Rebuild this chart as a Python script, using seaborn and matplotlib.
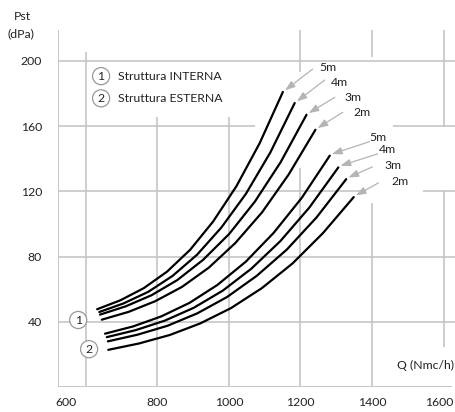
import matplotlib
matplotlib.use("Agg")
import matplotlib.pyplot as plt
import matplotlib.transforms as mtransforms
import matplotlib.font_manager as fm
import seaborn as sns
import pandas as pd

# ---- data ----
labels = ["5m", "4m", "3m", "2m"]

q_int_5m = [632, 697, 762, 827, 892, 956, 1021, 1086, 1151]
p_int_5m = [47.7, 53.2, 60.6, 70.7, 84.2, 101.5, 123.1, 149.5, 181.0]
q_int_4m = [638, 706, 775, 843, 911, 979, 1048, 1116, 1184]
p_int_4m = [46.0, 51.3, 58.4, 68.2, 81.1, 97.8, 118.6, 143.9, 174.2]
q_int_3m = [640, 712, 784, 856, 928, 1001, 1073, 1145, 1217]
p_int_3m = [44.4, 49.5, 56.3, 65.6, 78.0, 93.9, 113.8, 138.0, 167.0]
q_int_2m = [645, 720, 794, 869, 944, 1018, 1093, 1167, 1242]
p_int_2m = [41.3, 46.1, 52.6, 61.4, 73.2, 88.3, 107.2, 130.3, 157.8]

q_ext_5m = [654, 733, 811, 890, 968, 1047, 1125, 1204, 1282]
p_ext_5m = [32.7, 37.2, 43.3, 51.6, 62.6, 76.8, 94.5, 116.1, 141.9]
q_ext_4m = [659, 740, 821, 902, 983, 1063, 1144, 1225, 1306]
p_ext_4m = [30.6, 34.9, 40.7, 48.6, 59.1, 72.6, 89.5, 110.1, 134.7]
q_ext_3m = [662, 745, 829, 912, 995, 1078, 1162, 1245, 1328]
p_ext_3m = [28.0, 32.1, 37.6, 45.2, 55.2, 68.2, 84.3, 104.0, 127.5]
q_ext_2m = [663, 749, 835, 920, 1006, 1092, 1178, 1263, 1349]
p_ext_2m = [22.8, 26.7, 31.9, 39.0, 48.4, 60.6, 75.8, 94.4, 116.5]

x_ticks = [600, 800, 1000, 1200, 1400, 1600]
y_ticks = [40, 80, 120, 160, 200]
legend_texts = ["Struttura INTERNA", "Struttura ESTERNA"]

curves = [
    ("1", "5m", q_int_5m, p_int_5m), ("1", "4m", q_int_4m, p_int_4m),
    ("1", "3m", q_int_3m, p_int_3m), ("1", "2m", q_int_2m, p_int_2m),
    ("2", "5m", q_ext_5m, p_ext_5m), ("2", "4m", q_ext_4m, p_ext_4m),
    ("2", "3m", q_ext_3m, p_ext_3m), ("2", "2m", q_ext_2m, p_ext_2m),
]
rows = []
for grp, lab, qs, ps in curves:
    for q, p in zip(qs, ps):
        rows.append({"curve": grp + "-" + lab, "Q": q, "P": p})
df = pd.DataFrame(rows)

# ---- style ----
sns.set_theme(style="white")
installed = {f.name for f in fm.fontManager.ttflist}
main_font = "Liberation Sans Narrow" if "Liberation Sans Narrow" in installed else "Lato"
narrow = main_font != "Lato"
plt.rcParams["font.family"] = [main_font, "DejaVu Sans"]
FS = 9.5 if narrow else 8.8
GRID = "#c6c6c8"
ARROW = "#b4b4b4"
TXT = "#222222"

fig = plt.figure(figsize=(4.55, 4.12), dpi=100)
ax = fig.add_axes([58 / 455, 1 - 387 / 412, 397 / 455, 357 / 412])
XMIN, XMAX = 522.6, 1632
YMIN, YMAX = 0, 219
ax.set_xlim(XMIN, XMAX)
ax.set_ylim(YMIN, YMAX)

# grid segments (broken like the reference)
gkw = dict(color=GRID, lw=1.2, zorder=1)
ax.vlines(600, 0, 205.5, **gkw)
ax.vlines([800, 1000], 0, 165.6, **gkw)
ax.vlines(1200, 0, 134.3, **gkw)
ax.vlines(1200, 193.3, YMAX, **gkw)
ax.vlines(1400, 0, 112.8, **gkw)
ax.vlines(1400, 202.5, YMAX, **gkw)
ax.vlines(1600, 24.5, 120.9, **gkw)
ax.vlines(1600, 159.5, YMAX, **gkw)
ax.hlines(200, XMIN, XMAX, **gkw)
ax.hlines(160, XMIN, 1073, **gkw)
ax.hlines(160, 1459, XMAX, **gkw)
ax.hlines(120, XMIN, 1373, **gkw)
ax.hlines(120, 1543, XMAX, **gkw)
ax.hlines([80, 40], XMIN, XMAX, **gkw)

for s in ["top", "right", "bottom", "left"]:
    ax.spines[s].set_visible(False)
ax.vlines(XMIN, 0, YMAX, color=GRID, lw=1.4, zorder=1)
ax.hlines(0, XMIN, 1624, color=GRID, lw=1.4, zorder=1)

# curves
sns.lineplot(data=df, x="Q", y="P", units="curve", estimator=None, sort=False,
             color="black", lw=1.6, ax=ax, zorder=3)

# ticks
ax.set_xticks(x_ticks)
ax.set_xticklabels([str(v) for v in x_ticks])
ax.set_yticks(y_ticks)
ax.set_yticklabels([str(v) for v in y_ticks])
ax.tick_params(axis="both", length=0, labelsize=FS, colors=TXT)
ax.tick_params(axis="y", pad=11.5)
ax.tick_params(axis="x", pad=7.5)
ax.set_xlabel("")
ax.set_ylabel("")
# 600 label sits left of its grid line in the reference; keep 1600 inside the image
xl = ax.get_xticklabels()
xl[0].set_transform(xl[0].get_transform() + mtransforms.ScaledTranslation(-20 / 100, 0, fig.dpi_scale_trans))
xl[-1].set_transform(xl[-1].get_transform() + mtransforms.ScaledTranslation(-4 / 100, 0, fig.dpi_scale_trans))

# axis titles
fig.text(14 / 455, 1 - 16 / 412, "Pst", fontsize=FS, color=TXT, va="center", ha="left")
fig.text(8 / 455, 1 - 34 / 412, "(dPa)", fontsize=FS, color=TXT, va="center", ha="left")
ax.text(1629, 13.5, "Q (Nmc/h)", fontsize=FS, color=TXT, ha="right", va="center")

# legend with circled numbers
circ = dict(boxstyle="circle,pad=0.25", fc="white", ec="#999999", lw=0.9)
ax.text(643, 190.7, "1", fontsize=FS, ha="center", va="center", bbox=circ, zorder=5, color=TXT)
ax.text(643, 177.1, "2", fontsize=FS, ha="center", va="center", bbox=circ, zorder=5, color=TXT)
ax.text(690, 190.7, legend_texts[0], fontsize=FS, ha="left", va="center", color=TXT)
ax.text(690, 177.1, legend_texts[1], fontsize=FS, ha="left", va="center", color=TXT)
ax.text(579, 41.1, "1", fontsize=FS, ha="center", va="center", bbox=circ, zorder=5, color=TXT)
ax.text(609.5, 23.2, "2", fontsize=FS, ha="center", va="center", bbox=circ, zorder=5, color=TXT)

# length annotations with arrows
text_pos_int = [(1276, 195.7), (1309, 187.0), (1346, 177.7), (1371, 168.5)]
tail_int = [(1234, 195.0), (1268, 188.3), (1296, 177.7), (1318, 168.5)]
text_pos_ext = [(1418, 153.0), (1443, 145.6), (1460, 135.7), (1479, 125.8)]
tail_ext = [(1393, 150.5), (1416, 143.0), (1401, 135.0), (1418, 125.2)]
ends_int = [(q[-1], p[-1]) for _, _, q, p in curves[:4]]
ends_ext = [(q[-1], p[-1]) for _, _, q, p in curves[4:]]
for lab, tp, tl, en in zip(labels * 2, text_pos_int + text_pos_ext,
                           tail_int + tail_ext, ends_int + ends_ext):
    ax.text(tp[0], tp[1], lab, fontsize=FS, ha="center", va="center", color=TXT, zorder=6)
    ax.annotate("", xy=(en[0] + 6, en[1] + 1.0), xytext=tl,
                arrowprops=dict(arrowstyle="-|>,head_length=0.5,head_width=0.18",
                                color=ARROW, lw=0.9, shrinkA=0, shrinkB=0), zorder=4)

fig.savefig("out.png", dpi=100)
